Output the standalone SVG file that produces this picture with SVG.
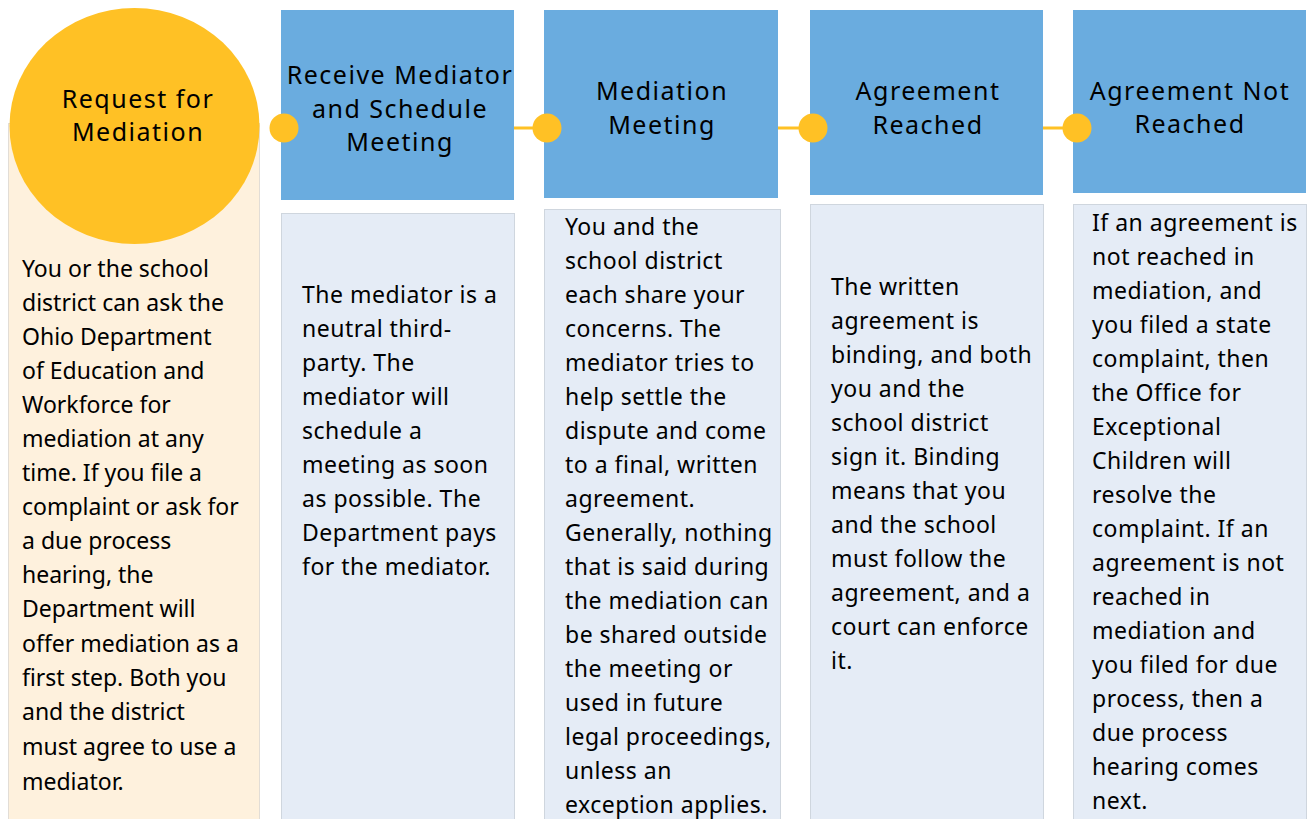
<svg xmlns="http://www.w3.org/2000/svg" width="1307" height="819" viewBox="0 0 1307 819">
<style>
.step{fill:#6aacdf}
.panel{fill:#e5ecf6;stroke:#cfd6de;stroke-width:1}
.peach{fill:#fef1dd;stroke:#e2ddd6;stroke-width:1}
.dot{fill:#ffc125}
.conn{stroke:#ffc125;stroke-width:3;fill:none}
.title{font-family:"Noto Sans","Open Sans",sans-serif;font-size:25px;letter-spacing:1.5px;fill:#000;text-anchor:middle}
.body{font-family:"Noto Sans","Open Sans",sans-serif;font-size:23px;letter-spacing:0.5px;fill:#000}
.tight{letter-spacing:0px}
</style>
<rect width="1307" height="819" fill="#fff"/>
<g id="connectors">
<line class="conn" x1="514" y1="128" x2="547" y2="128"/>
<line class="conn" x1="778" y1="128" x2="813" y2="128"/>
<line class="conn" x1="1043" y1="128" x2="1077" y2="128"/>
</g>
<g id="node-request">
<rect class="peach" x="8.5" y="123.5" width="251" height="700"/>
<ellipse cx="134.5" cy="126" rx="125" ry="118" class="dot"/>
<text class="title"><tspan x="138" y="108">Request for</tspan><tspan x="138" y="141">Mediation</tspan></text>
<text class="body tight"><tspan x="22" y="277">You or the school</tspan><tspan x="22" y="311">district can ask the</tspan><tspan x="22" y="345">Ohio Department</tspan><tspan x="22" y="379">of Education and</tspan><tspan x="22" y="413">Workforce for</tspan><tspan x="22" y="447">mediation at any</tspan><tspan x="22" y="481">time. If you file a</tspan><tspan x="22" y="515">complaint or ask for</tspan><tspan x="22" y="549">a due process</tspan><tspan x="22" y="583">hearing, the</tspan><tspan x="22" y="617">Department will</tspan><tspan x="22" y="652">offer mediation as a</tspan><tspan x="22" y="686">first step. Both you</tspan><tspan x="22" y="720">and the district</tspan><tspan x="22" y="755">must agree to use a</tspan><tspan x="22" y="790">mediator.</tspan></text>
</g>
<g id="node-receive">
<rect class="step" x="281" y="10" width="233" height="190"/>
<rect class="panel" x="281.5" y="213.5" width="233" height="610"/>
<circle class="dot" cx="284" cy="128" r="14.5"/>
<text class="title"><tspan x="400" y="84">Receive Mediator</tspan><tspan x="400" y="118">and Schedule</tspan><tspan x="400" y="151">Meeting</tspan></text>
<text class="body"><tspan x="302" y="303">The mediator is a</tspan><tspan x="302" y="337">neutral third-</tspan><tspan x="302" y="371">party. The</tspan><tspan x="302" y="405">mediator will</tspan><tspan x="302" y="439">schedule a</tspan><tspan x="302" y="473">meeting as soon</tspan><tspan x="302" y="507">as possible. The</tspan><tspan x="302" y="541">Department pays</tspan><tspan x="302" y="575">for the mediator.</tspan></text>
</g>
<g id="node-meeting">
<rect class="step" x="544" y="10" width="234" height="188"/>
<rect class="panel" x="544.5" y="209.5" width="236" height="614"/>
<circle class="dot" cx="547" cy="128" r="14.5"/>
<text class="title"><tspan x="662" y="100">Mediation</tspan><tspan x="662" y="134">Meeting</tspan></text>
<text class="body"><tspan x="565" y="235">You and the</tspan><tspan x="565" y="269">school district</tspan><tspan x="565" y="303">each share your</tspan><tspan x="565" y="337">concerns. The</tspan><tspan x="565" y="371">mediator tries to</tspan><tspan x="565" y="405">help settle the</tspan><tspan x="565" y="439">dispute and come</tspan><tspan x="565" y="473">to a final, written</tspan><tspan x="565" y="507">agreement.</tspan><tspan x="565" y="541">Generally, nothing</tspan><tspan x="565" y="575">that is said during</tspan><tspan x="565" y="609">the mediation can</tspan><tspan x="565" y="643">be shared outside</tspan><tspan x="565" y="677">the meeting or</tspan><tspan x="565" y="711">used in future</tspan><tspan x="565" y="745">legal proceedings,</tspan><tspan x="565" y="779">unless an</tspan><tspan x="565" y="813">exception applies.</tspan></text>
</g>
<g id="node-reached">
<rect class="step" x="810" y="10" width="233" height="185"/>
<rect class="panel" x="810.5" y="204.5" width="233" height="619"/>
<circle class="dot" cx="813" cy="128" r="14.5"/>
<text class="title"><tspan x="928" y="100">Agreement</tspan><tspan x="928" y="134">Reached</tspan></text>
<text class="body"><tspan x="831" y="295">The written</tspan><tspan x="831" y="329">agreement is</tspan><tspan x="831" y="363">binding, and both</tspan><tspan x="831" y="397">you and the</tspan><tspan x="831" y="431">school district</tspan><tspan x="831" y="465">sign it. Binding</tspan><tspan x="831" y="499">means that you</tspan><tspan x="831" y="533">and the school</tspan><tspan x="831" y="567">must follow the</tspan><tspan x="831" y="601">agreement, and a</tspan><tspan x="831" y="635">court can enforce</tspan><tspan x="831" y="669">it.</tspan></text>
</g>
<g id="node-notreached">
<rect class="step" x="1073" y="10" width="233" height="183"/>
<rect class="panel" x="1073.5" y="204.5" width="233" height="619"/>
<circle class="dot" cx="1077" cy="128" r="14.5"/>
<text class="title"><tspan x="1190" y="100">Agreement Not</tspan><tspan x="1190" y="133">Reached</tspan></text>
<text class="body"><tspan x="1092" y="231">If an agreement is</tspan><tspan x="1092" y="265">not reached in</tspan><tspan x="1092" y="299">mediation, and</tspan><tspan x="1092" y="333">you filed a state</tspan><tspan x="1092" y="367">complaint, then</tspan><tspan x="1092" y="401">the Office for</tspan><tspan x="1092" y="435">Exceptional</tspan><tspan x="1092" y="469">Children will</tspan><tspan x="1092" y="503">resolve the</tspan><tspan x="1092" y="537">complaint. If an</tspan><tspan x="1092" y="571">agreement is not</tspan><tspan x="1092" y="605">reached in</tspan><tspan x="1092" y="639">mediation and</tspan><tspan x="1092" y="673">you filed for due</tspan><tspan x="1092" y="707">process, then a</tspan><tspan x="1092" y="741">due process</tspan><tspan x="1092" y="775">hearing comes</tspan><tspan x="1092" y="809">next.</tspan></text>
</g>
</svg>
